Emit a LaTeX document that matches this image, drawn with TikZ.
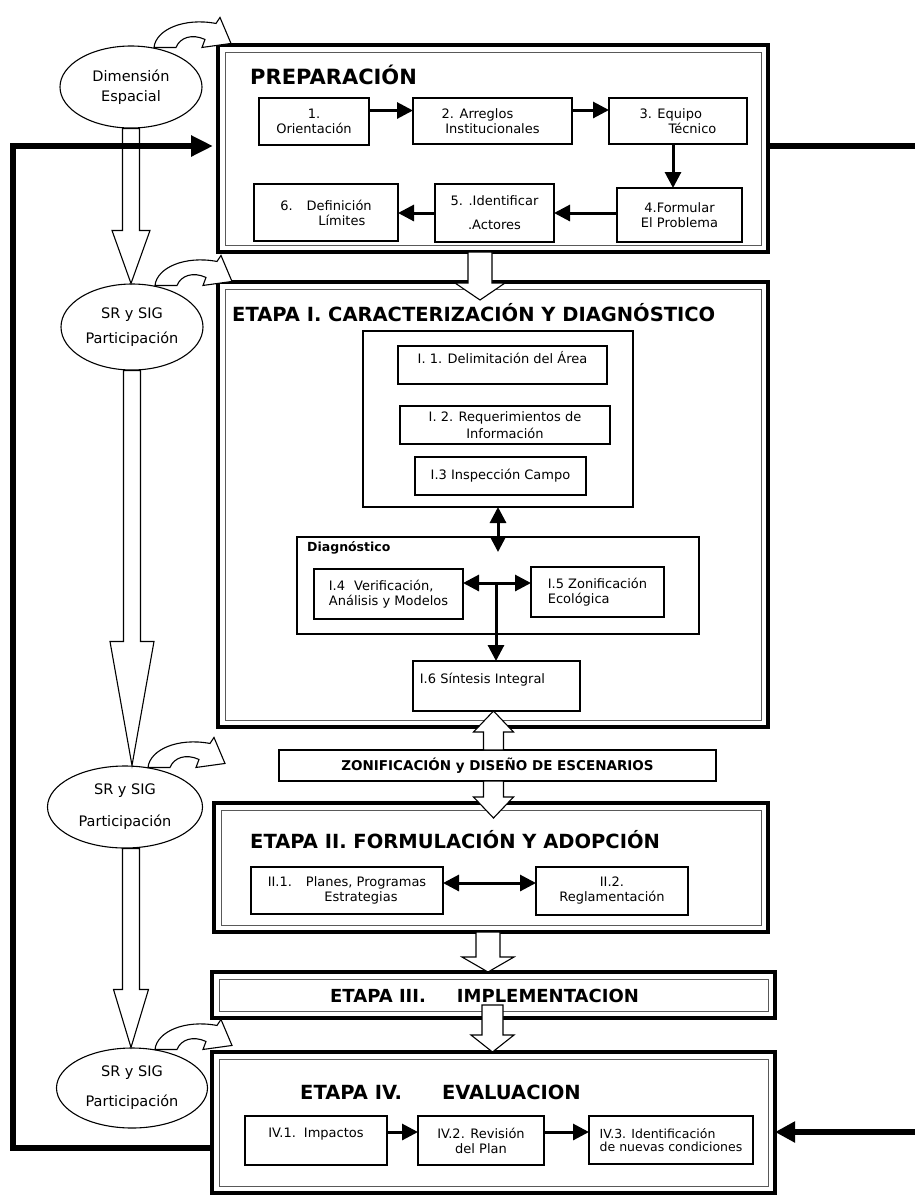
\documentclass[tikz,border=0pt]{standalone}
\usepackage{fontspec}
\setmainfont{DejaVu Sans}
\usetikzlibrary{positioning}
\usetikzlibrary{arrows.meta}
\usetikzlibrary{shapes.geometric}
\usetikzlibrary{calc}

% hollow block arrow: from, to, head length, half shaft, half head
\newcommand{\hueco}[5]{%
\coordinate (ha) at (#1);
\coordinate (hb) at (#2);
\draw[hueco] let \p1=(ha), \p2=(hb) in
  ({\x1-#4},\y1) -- ({\x1-#4},{\y2+(#3)}) -- ({\x1-#5},{\y2+(#3)}) -- (\x1,\y2)
  -- ({\x1+#5},{\y2+(#3)}) -- ({\x1+#4},{\y2+(#3)}) -- ({\x1+#4},\y1) -- cycle;}

\tikzset{
  etapa/.style={draw, line width=4.5pt, inner sep=0pt, outer sep=0pt},
  marco/.style={line width=0.9pt, black!65},
  caja/.style={draw, line width=1.2pt, inner sep=0pt, outer sep=0pt},
  paso/.style={draw, line width=1.2pt, fill=white, align=center, inner sep=2pt, outer sep=0pt,
    font=\fontsize{13}{15}\selectfont},
  titulo/.style={anchor=west, inner sep=0pt, font=\bfseries\fontsize{19.5}{22}\selectfont},
  elipse/.style={ellipse, draw, line width=1.1pt, fill=white, align=center, inner sep=0pt,
    font=\fontsize{14.5}{20}\selectfont},
  flecha/.style={line width=3pt, -{Triangle[length=16pt,width=16pt]}},
  flechas/.style={line width=3pt, {Triangle[length=16pt,width=16pt]}-{Triangle[length=16pt,width=16pt]}},
  retro/.style={line width=5.5pt},
  hueco/.style={draw, fill=white, line width=1.1pt},
  curva/.pic={
    \draw[hueco] (0,0) .. controls (2,-18) and (30,-30) .. (62,-24) -- (66,-30) -- (77,-4)
      -- (48,0) -- (51,-8) .. controls (38,-14) and (26,-10) .. (22,0) -- cycle;
  }
}

\begin{document}
\begin{tikzpicture}[x=1pt, y=-1pt]
\useasboundingbox (0,0) rectangle (915,1195);

% etapas
\node[etapa, minimum width=550pt, minimum height=207pt] (prep) at (493,148.5) {};
\node[etapa, minimum width=550pt, minimum height=445pt] (eI) at (493,504.5) {};
\node[etapa, minimum width=554pt, minimum height=129pt] (eII) at (491,867.5) {};
\node[etapa, minimum width=563pt, minimum height=46pt] (eIII) at (493.5,995) {};
\node[etapa, minimum width=563pt, minimum height=141pt] (eIV) at (493.5,1122.5) {};
\foreach \n in {prep,eI,eII,eIII,eIV}
  \draw[marco] ([shift={(7pt,7pt)}]\n.south west) rectangle ([shift={(-7pt,-7pt)}]\n.north east);

\node[titulo, font=\bfseries\fontsize{21}{24}\selectfont] (tprep) at (250,75) {PREPARACIÓN};
\node[titulo] (tI) at (232,313) {ETAPA I. CARACTERIZACIÓN Y DIAGNÓSTICO};
\node[titulo] (tII) at (250,840) {ETAPA II. FORMULACIÓN Y ADOPCIÓN};
\node[titulo, font=\bfseries\fontsize{18}{20}\selectfont] (tIII) at (330,996) {ETAPA III.\hspace{31pt}IMPLEMENTACION};
\node[titulo] (tIV) at (300,1092) {ETAPA IV.\hspace{40pt}EVALUACION};

% preparacion
\node[paso, minimum width=110pt, minimum height=47pt] (p1) at (314,121.5) {1.\\Orientación};
\node[paso, minimum width=159pt, minimum height=46pt] (p2) at (492.5,121) {2. Arreglos\hspace*{30pt}\\Institucionales};
\node[paso, align=left, minimum width=138pt, minimum height=46pt] (p3) at (678,121) {3. Equipo\\\hspace*{29pt}Técnico};
\node[paso, minimum width=125pt, minimum height=54pt] (p4) at (679.5,215) {4.Formular\\El Problema};
\node[paso, minimum width=119pt, minimum height=58pt] (p5) at (494.5,213) {5. .Identificar\\[9pt].Actores};
\node[paso, align=left, minimum width=144pt, minimum height=57pt] (p6) at (326,212.5) {6.\hspace*{14pt}Definición\\\hspace*{38pt}Límites};

\draw[flecha] ([yshift=11pt]p1.east) -- ([yshift=11pt]p1.east -| p2.west);
\draw[flecha] ([yshift=11pt]p2.east) -- ([yshift=11pt]p2.east -| p3.west);
\draw[flecha] ([xshift=-5pt]p3.south) -- ([xshift=-5pt]p3.south |- p4.north);
\draw[flecha] ([yshift=2pt]p4.west) -- ([yshift=2pt]p4.west -| p5.east);
\draw[flecha] (p5.west) -- (p5.west -| p6.east);

% etapa I
\node[caja, minimum width=270pt, minimum height=176pt] (cont) at (498,419) {};
\node[paso, minimum width=209pt, minimum height=38pt] (i1) at (502.5,365) {I. 1. Delimitación del Área\\\mbox{}};
\node[paso, minimum width=210pt, minimum height=38pt] (i2) at (505,425) {I. 2. Requerimientos de\\[2pt]Información};
\node[paso, minimum width=171pt, minimum height=38pt] (i3) at (500.5,476) {I.3 Inspección Campo};

\node[caja, minimum width=402pt, minimum height=97pt] (diag) at (498,585.5) {};
\node[anchor=west, inner sep=0pt, font=\bfseries\fontsize{12.5}{14}\selectfont] (tdiag)
  at ([xshift=10pt,yshift=-11pt]diag.north west) {Diagnóstico};
\node[paso, align=left, minimum width=149pt, minimum height=50pt] (i4) at (388.5,594) {I.4\hspace*{9pt}Verificación,\\Análisis y Modelos};
\node[paso, align=left, minimum width=133pt, minimum height=50pt] (i5) at (597.5,592) {I.5 Zonificación\\Ecológica};
\node[paso, align=left, minimum width=167pt, minimum height=50pt] (i6) at (496.5,686) {I.6 Síntesis Integral\hspace*{28pt}\\\mbox{}};

\draw[flechas] (cont.south) -- ([yshift=-15pt]diag.north);
\coordinate (cruce) at (496,583);
\draw[flechas] (cruce -| i4.east) -- (cruce -| i5.west);
\draw[flecha] (cruce) -- (cruce |- i6.north);

\node[caja, fill=white, font=\bfseries\fontsize{13.5}{15}\selectfont, minimum width=437pt, minimum height=31pt]
  (zonif) at (497.5,765.5) {ZONIFICACIÓN y DISEÑO DE ESCENARIOS};

% etapa II
\node[paso, minimum width=192pt, minimum height=47pt] (ii1) at (347,890.5) {II.1.\hspace*{14pt}Planes, Programas\\\hspace*{28pt}Estrategias};
\node[paso, minimum width=152pt, minimum height=48pt] (ii2) at (612,891) {II.2.\\Reglamentación};
\draw[flechas] ([yshift=7.5pt]ii1.east) -- ([yshift=7.5pt]ii1.east -| ii2.west);

% etapa IV
\node[paso, minimum width=142pt, minimum height=49pt] (iv1) at (316,1140.5) {IV.1.\hspace*{8pt}Impactos\\\mbox{}};
\node[paso, minimum width=126pt, minimum height=49pt] (iv2) at (481,1140.5) {IV.2. Revisión\\del Plan};
\node[paso, align=left, font=\fontsize{12.5}{13}\selectfont, minimum width=164pt, minimum height=48pt]
  (iv3) at (671,1140) {IV.3. Identificación\\de nuevas condiciones};
\draw[flecha] ([yshift=8.5pt]iv1.east) -- ([yshift=8.5pt]iv1.east -| iv2.west);
\draw[flecha] ([yshift=8.5pt]iv2.east) -- ([yshift=8.5pt]iv2.east -| iv3.west);

% hollow arrows between stages
\hueco{[xshift=-13pt]prep.south}{[xshift=-13pt,yshift=-18pt]eI.north}{17pt}{12pt}{25pt}
\hueco{[xshift=-4pt]zonif.north}{i6.south}{-21pt}{10pt}{20pt}
\hueco{[xshift=-4pt]zonif.south}{[yshift=-15pt]eII.north}{21pt}{10pt}{20pt}
\hueco{[xshift=-3pt]eII.south}{eIII.north}{15pt}{12pt}{26pt}
\hueco{[xshift=-1pt,yshift=-10pt]eIII.center}{eIV.north}{17pt}{10.5pt}{21.5pt}

% ellipses on the left
\node[elipse, minimum width=142pt, minimum height=82pt] (el1) at (131,87) {Dimensión\\Espacial};
\node[elipse, minimum width=142pt, minimum height=86pt] (el2) at (132,327) {SR y SIG\\[5pt]Participación};
\node[elipse, minimum width=155pt, minimum height=82pt] (el3) at (125,807) {SR y SIG\\[12pt]Participación};
\node[elipse, minimum width=151pt, minimum height=80pt] (el4) at (132,1088) {SR y SIG\\[10pt]Participación};

\foreach \e in {el1,el2,el3,el4}
  \pic at ([xshift=23pt,yshift=-2pt]\e.north) {curva};

\hueco{el1.south}{el2.north}{53pt}{8.5pt}{19pt}
\hueco{el2.south}{el3.north}{124pt}{8.5pt}{22pt}
\hueco{el3.south -| el1.south}{el4.north}{58pt}{8.5pt}{17.5pt}

% feedback
\coordinate (esq) at (13,1148);
\coordinate (borde1) at (915,146);
\coordinate (borde2) at (915,1132);
\draw[retro, -{Triangle[length=22pt,width=20pt]}] ([yshift=-25.5pt]eIV.west) -- (esq) |- ([xshift=-5pt,yshift=2.5pt]prep.west);
\draw[retro] ([yshift=2.5pt]prep.east) -- (borde1);
\draw[retro, -{Triangle[length=20pt,width=20pt]}] (borde2) -- ([yshift=-9.5pt]eIV.east);

\end{tikzpicture}
\end{document}
